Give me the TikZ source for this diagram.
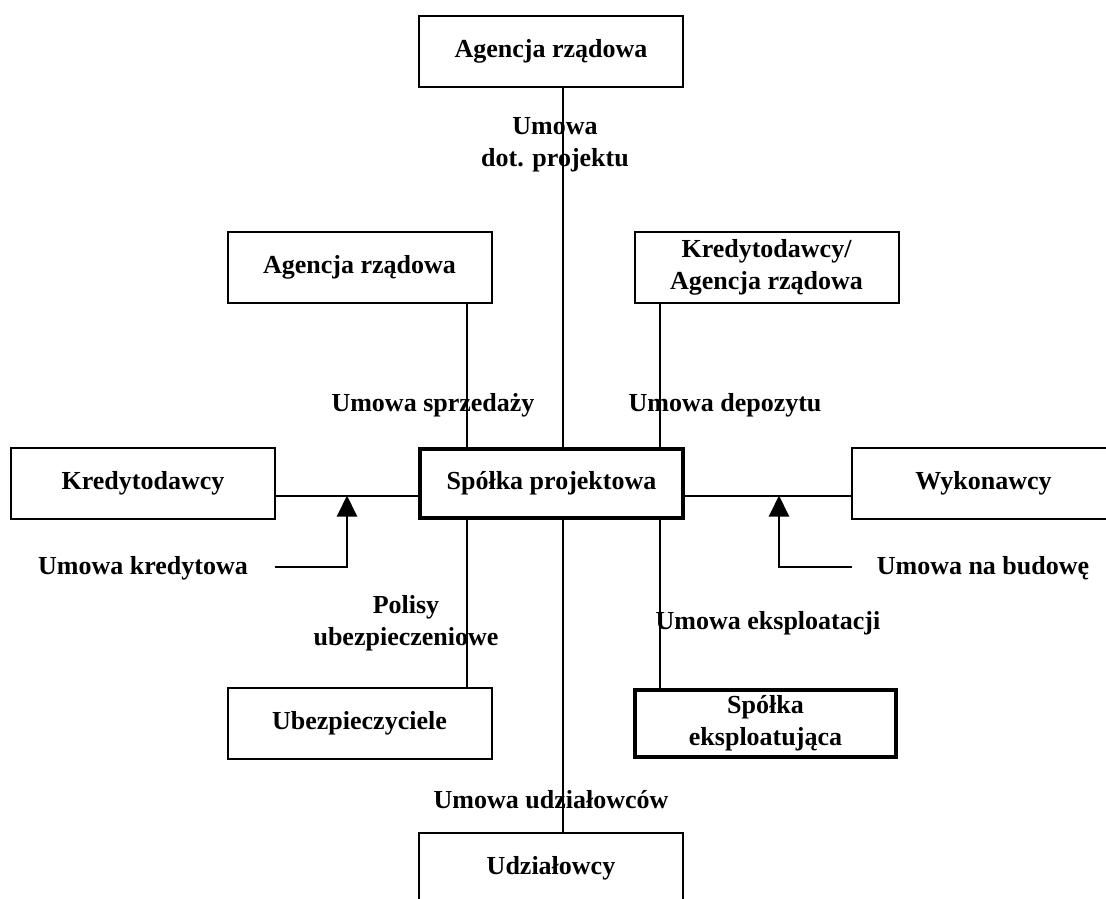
\documentclass[tikz,border=0pt]{standalone}
\usepackage{fontspec}
\setmainfont{Liberation Serif}
\usetikzlibrary{arrows.meta}
\begin{document}
\begin{tikzpicture}[x=1pt,y=-1pt,
  every node/.style={font=\fontsize{26}{32}\selectfont\bfseries, align=center, inner sep=0pt},
  party/.style={draw, line width=2pt, minimum width=264pt, minimum height=71pt},
  mainparty/.style={party, line width=4.5pt},
  link/.style={line width=2pt},
  pointer/.style={line width=2pt, -{Triangle[length=21pt,width=20pt]}},
  contract/.style={}
]
\useasboundingbox (0,0) rectangle (1106,898);

% parties
\node[party] (top)  at (551,51.5)  {Agencja rządowa};
\node[party] (agL)  at (359.5,267.5) {Agencja rządowa};
\node[party] (agR)  at (766.5,267.5) {Kredytodawcy/\\Agencja rządowa};
\node[party] (kred) at (143,483)   {Kredytodawcy};
\node[mainparty, minimum width=263pt, minimum height=69pt] (spv) at (551.5,483.5) {Spółka projektowa};
\node[party] (wyk)  at (983.5,483) {Wykonawcy};
\node[party] (ubez) at (359.5,723) {Ubezpieczyciele};
\node[mainparty, minimum width=261pt, minimum height=67pt] (eksp) at (765.5,723.5) {Spółka\\eksploatująca};
\node[party] (udz)  at (551,868)   {Udziałowcy};

% contract labels
\node[contract] (lProj) at (555,145)   {Umowa\\dot. projektu};
\node[contract] (lSprz) at (433,405)   {Umowa sprzedaży};
\node[contract] (lDep)  at (725,405)   {Umowa depozytu};
\node[contract] (lKred) at (143,568)   {Umowa kredytowa};
\node[contract] (lBud)  at (983,568)   {Umowa na budowę};
\node[contract] (lPol)  at (406,623)   {Polisy\\ubezpieczeniowe};
\node[contract] (lEks)  at (768,623)   {Umowa eksploatacji};
\node[contract] (lUdz)  at (551,800)   {Umowa udziałowców};

% connector guides
\coordinate (xL) at (467,0);
\coordinate (xC) at (563,0);
\coordinate (xR) at (659.5,0);
\coordinate (yH) at (0,495.5);

% vertical links
\draw[link] (top.south -| xC) -- (spv.north -| xC);
\draw[link] (spv.south -| xC) -- (udz.north -| xC);
\draw[link] (agL.south -| xL) -- (spv.north -| xL);
\draw[link] (spv.south -| xL) -- (ubez.north -| xL);
\draw[link] (agR.south -| xR) -- (spv.north -| xR);
\draw[link] (spv.south -| xR) -- (eksp.north -| xR);

% horizontal links
\draw[link] (kred.east |- yH) -- (spv.west |- yH);
\draw[link] (spv.east |- yH) -- (wyk.west |- yH);

% agreement pointers
\coordinate (kStart) at (275,567);
\coordinate (kBend)  at (347,567);
\coordinate (kTip)   at (347,495.5);
\draw[pointer] (kStart) -- (kBend) -- (kTip);
\coordinate (bStart) at (852,567);
\coordinate (bBend)  at (779,567);
\coordinate (bTip)   at (779,495.5);
\draw[pointer] (bStart) -- (bBend) -- (bTip);
\end{tikzpicture}
\end{document}
